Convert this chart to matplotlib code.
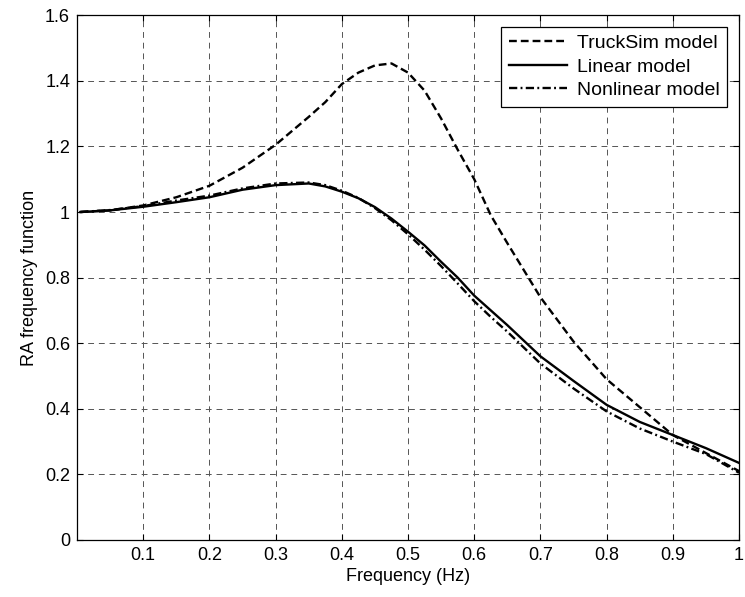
import numpy as np
import matplotlib
matplotlib.use("Agg")
from matplotlib import pyplot as plt

freq = [0.005, 0.05, 0.1, 0.15, 0.2, 0.25, 0.3, 0.35, 0.375, 0.4, 0.425, 0.45,
        0.475, 0.5, 0.525, 0.55, 0.575, 0.6, 0.625, 0.65, 0.7, 0.75, 0.8, 0.85,
        0.9, 0.95, 1.0]
trucksim = [1.0, 1.005, 1.02, 1.045, 1.08, 1.135, 1.205, 1.29, 1.335, 1.39, 1.425,
            1.447, 1.453, 1.425, 1.37, 1.285, 1.19, 1.10, 0.99, 0.905, 0.74, 0.605,
            0.49, 0.405, 0.32, 0.265, 0.21]
linear = [1.0, 1.005, 1.016, 1.03, 1.045, 1.068, 1.082, 1.087, 1.078, 1.062, 1.042,
          1.015, 0.98, 0.94, 0.898, 0.848, 0.80, 0.745, 0.70, 0.655, 0.56, 0.485,
          0.412, 0.36, 0.32, 0.28, 0.235]
nonlinear = [1.0, 1.006, 1.018, 1.035, 1.05, 1.072, 1.087, 1.09, 1.082, 1.065, 1.043,
             1.012, 0.975, 0.932, 0.885, 0.835, 0.782, 0.728, 0.68, 0.635, 0.538,
             0.462, 0.392, 0.34, 0.30, 0.262, 0.205]

xticks = [0.1, 0.2, 0.3, 0.4, 0.5, 0.6, 0.7, 0.8, 0.9, 1]
yticks = [0, 0.2, 0.4, 0.6, 0.8, 1, 1.2, 1.4, 1.6]

plt.rcParams['font.family'] = ['Liberation Sans', 'DejaVu Sans']
plt.rcParams['font.size'] = 13

fig = plt.figure(figsize=(7.45, 5.97), dpi=100)
ax = fig.add_axes([0.1034, 0.0955, 0.8886, 0.879])

ax.plot(freq, trucksim, color='black', lw=1.7, linestyle=(0, (3.3, 1.7)), label='TruckSim model')
ax.plot(freq, linear, color='black', lw=1.7, linestyle='-', label='Linear model')
ax.plot(freq, nonlinear, color='black', lw=1.7, linestyle=(0, (3.5, 1.4, 0.8, 1.4)), label='Nonlinear model')

ax.set_xlim(0, 1)
ax.set_ylim(0, 1.6)
ax.set_xticks(xticks)
ax.set_xticklabels([f'{t:g}' for t in xticks])
ax.set_yticks(yticks)
ax.set_yticklabels([f'{t:g}' for t in yticks])
ax.tick_params(direction='in', length=4, top=True, right=True, width=0.8, pad=5)
ax.grid(True, color='#555555', lw=0.7, linestyle=(0, (6, 5)))
for s in ax.spines.values():
    s.set_linewidth(0.9)

ax.set_xlabel('Frequency (Hz)', labelpad=3)
ax.set_ylabel('RA frequency function', labelpad=5)

leg = ax.legend(loc='upper right', fancybox=False, framealpha=1, edgecolor='black',
                handlelength=3.0, handletextpad=0.5, borderaxespad=0.6,
                labelspacing=0.3, fontsize=14)
leg.get_frame().set_linewidth(0.9)

fig.savefig('out.png', dpi=100)
